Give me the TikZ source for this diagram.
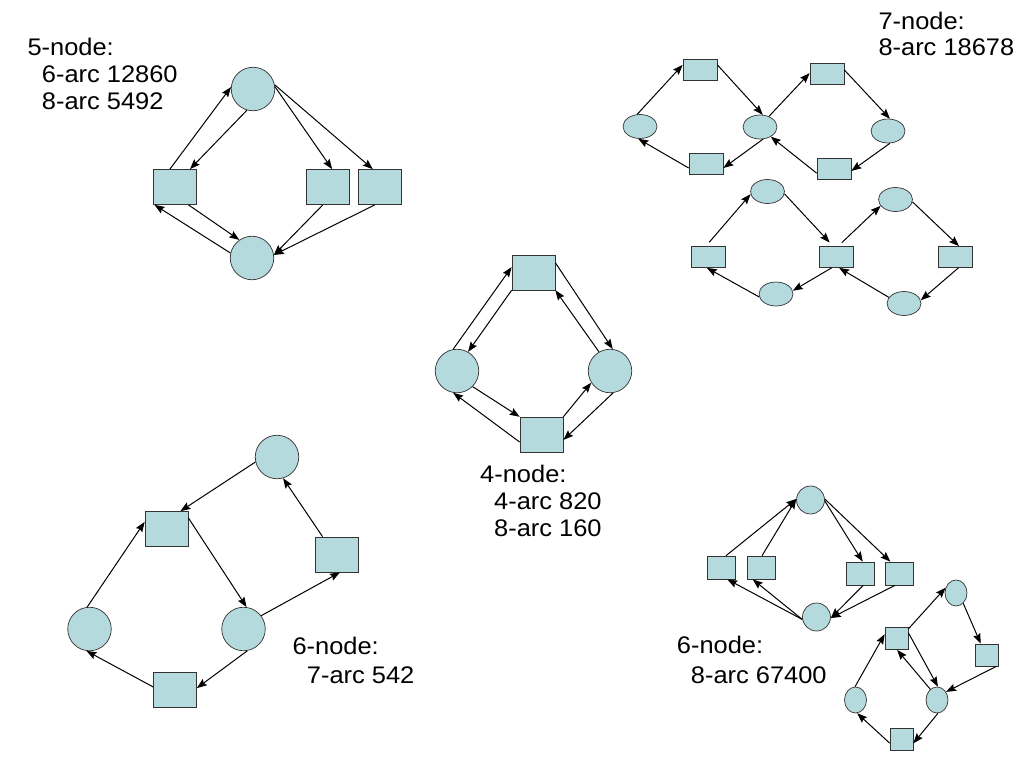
\documentclass[tikz,border=0pt]{standalone}
\usepackage{fontspec}
\setmainfont{Liberation Sans}[FakeStretch=1.06]
\usetikzlibrary{arrows.meta,shapes.geometric}
\begin{document}
\begin{tikzpicture}[x=1pt,y=-1pt,
  flow/.style={-{Stealth[length=10pt,width=7.5pt,inset=1.5pt]},line width=1pt},
  pl/.style={circle,draw=black!80,fill=cellblue,line width=0.7pt,minimum size=43.5pt,inner sep=0pt},
  tr/.style={rectangle,draw=black!80,fill=cellblue,line width=0.7pt,minimum width=43pt,minimum height=35pt,inner sep=0pt},
  pe/.style={ellipse,draw=black!80,fill=cellblue,line width=0.7pt,minimum width=34pt,minimum height=24pt,inner sep=0pt},
  te/.style={rectangle,draw=black!80,fill=cellblue,line width=0.7pt,minimum width=34pt,minimum height=21pt,inner sep=0pt},
  pm/.style={circle,draw=black!80,fill=cellblue,line width=0.7pt,minimum size=28pt,inner sep=0pt},
  tm/.style={rectangle,draw=black!80,fill=cellblue,line width=0.7pt,minimum width=28pt,minimum height=23pt,inner sep=0pt},
  ps/.style={ellipse,draw=black!80,fill=cellblue,line width=0.7pt,minimum width=22pt,minimum height=26pt,inner sep=0pt},
  ts/.style={rectangle,draw=black!80,fill=cellblue,line width=0.7pt,minimum width=23pt,minimum height=22pt,inner sep=0pt},
  lbl/.style={anchor=base west,inner sep=0pt,font=\fontsize{24}{29}\selectfont}]
\definecolor{cellblue}{RGB}{180,218,222}
\useasboundingbox[fill=white] (0,0) rectangle (1024,768);
\node[pl] (tc5) at (253,89) {};
\node[pl] (bc5) at (252,258) {};
\node[tr] (ls5) at (175,187) {};
\node[tr] (ms5) at (328,187) {};
\node[tr] (rs5) at (380,187) {};
\node[tr] (ts4) at (533.5,272.5) {};
\node[pl] (lc4) at (457,371) {};
\node[pl] (rc4) at (610,371) {};
\node[tr] (bs4) at (541.5,434.5) {};
\node[pl] (tc6) at (277,457) {};
\node[tr] (us6) at (166.5,529) {};
\node[tr] (rs6) at (336.5,554.5) {};
\node[pl] (lc6) at (89.5,629) {};
\node[pl] (mc6) at (243.5,629) {};
\node[tr] (bs6) at (175,690) {};
\node[pe] (le7) at (640,126.5) {};
\node[te] (ts7a) at (700,69.5) {};
\node[pe] (me7) at (760,127) {};
\node[te] (bs7a) at (706,164) {};
\node[te] (ts7b) at (827,74) {};
\node[pe] (re7) at (888,131) {};
\node[te] (bs7b) at (834,168.5) {};
\node[pe] (et7a) at (767.5,191.5) {};
\node[te] (sl7) at (708,257) {};
\node[te] (sm7) at (836,257) {};
\node[pe] (eb7a) at (776,294) {};
\node[pe] (et7b) at (895.5,199.5) {};
\node[te] (sr7) at (955.5,257) {};
\node[pe] (eb7b) at (904,303.5) {};
\node[pm] (tc8) at (810.5,500) {};
\node[pm] (bc8) at (816.5,617) {};
\node[tm] (sq8a) at (721.5,567.5) {};
\node[tm] (sq8b) at (761,567.5) {};
\node[tm] (sq8c) at (860,573.5) {};
\node[tm] (sq8d) at (899,573.5) {};
\node[ps] (e8t) at (956,593) {};
\node[ts] (s8a) at (896.5,638.5) {};
\node[ts] (s8r) at (986.5,655) {};
\node[ps] (e8l) at (855.5,700) {};
\node[ps] (e8r) at (937,700) {};
\node[ts] (s8b) at (901.5,739.5) {};
\foreach \a/\b in {ls5.106/tc5.175, tc5.254/ls5.50, tc5.6/ms5.77, tc5.11/rs5.112, ls5.307/bc5.125, bc5.167/ls5.221, ms5.254/bc5.8, rs5.254/bc5.8}
  \draw[flow] (\a) -- (\b);
\foreach \a/\b in {lc4.100/ts4.166, ts4.219/lc4.60, ts4.24/rc4.83, rc4.120/ts4.321, lc4.315/bs4.141, bs4.199/lc4.260, bs4.39/rc4.212, rc4.278/bs4.346}
  \draw[flow] (\a) -- (\b);
\foreach \a/\b in {tc6.193/us6.52, rs6.128/tc6.286, us6.27/mc6.82, mc6.37/rs6.281, lc6.96/us6.162, mc6.280/bs6.5, bs6.172/lc6.262}
  \draw[flow] (\a) -- (\b);
\foreach \a/\b in {le7.103/ts7a.165, ts7a.15/me7.77, me7.284/bs7a.347, bs7a.193/le7.262, me7.50/ts7b.177, ts7b.13/re7.81, re7.279/bs7b.352, bs7b.195/me7.318, sm7.248/eb7a.11, eb7a.190/sl7.264, et7b.352/sr7.72, sr7.285/eb7b.11, eb7b.158/sm7.286}
  \draw[flow] (\a) -- (\b);
\draw[flow,shorten <=5pt] (sl7.101) -- (et7a.189);
\draw[flow,shorten >=5pt] (et7a.352) -- (sm7.105);
\draw[flow,shorten <=5pt] (sm7.79) -- (et7b.203);
\foreach \a/\b in {sq8a.69/tc8.176, sq8b.85/tc8.176, tc8.356/sq8c.77, tc8.4/sq8d.126, bc8.190/sq8a.296, bc8.190/sq8b.235, sq8c.285/bc8.356, sq8d.251/bc8.356}
  \draw[flow] (\a) -- (\b);
\foreach \a/\b in {s8a.39/e8t.153, e8t.305/s8r.117, s8r.311/e8r.42, s8a.26/e8r.86, e8r.122/s8a.273, e8l.92/s8a.160, e8r.274/s8b.342, s8b.197/e8l.277}
  \draw[flow] (\a) -- (\b);
\node[lbl] (n5) at (27.3,56) {5-node:};
\node[lbl] (a5) at (41.7,82.5) {6-arc 12860};
\node[lbl] (b5) at (41.7,109) {8-arc 5492};
\node[lbl] (n7) at (878.3,29.3) {7-node:};
\node[lbl] (a7) at (878.3,56) {8-arc 18678};
\node[lbl] (n4) at (480,482.3) {4-node:};
\node[lbl] (a4) at (494,509.3) {4-arc 820};
\node[lbl] (b4) at (494,536) {8-arc 160};
\node[lbl] (n6) at (292.3,654.3) {6-node:};
\node[lbl] (a6) at (306.7,683) {7-arc 542};
\node[lbl] (n8) at (676.7,653.3) {6-node:};
\node[lbl] (a8) at (690.7,683.3) {8-arc 67400};
\end{tikzpicture}
\end{document}
